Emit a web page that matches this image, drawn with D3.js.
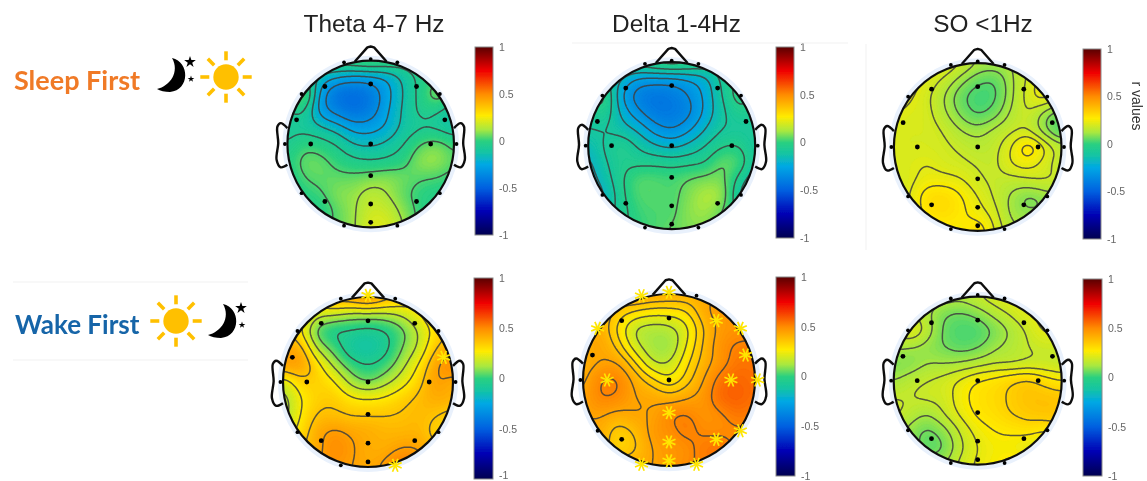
<!DOCTYPE html>
<html>
<head>
<meta charset="utf-8">
<script src="https://cdn.jsdelivr.net/npm/d3@7"></script>
<style>
html, body { margin: 0; padding: 0; background: #fff; }
text { font-family: "Liberation Sans", Arial, sans-serif; }
</style>
</head>
<body>
<svg id="fig" width="1147" height="481"></svg>
<script>
// r values, rows top to bottom (y = 1 .. -1), columns left to right (x = -1 .. 1)
const thetaSleep = [
  [0, 0, 0, 0, .03, .05, .03, 0, 0, 0, 0],
  [-.05, -.05, -.17, -.24, -.27, -.26, -.22, -.12, -.03, 0, 0],
  [0, .07, -.27, -.42, -.45, -.40, -.27, -.14, -.03, .08, 0],
  [-.07, -.05, -.28, -.37, -.43, -.38, -.25, -.13, -.04, -.05, -.12],
  [-.08, -.09, -.14, -.2, -.28, -.28, -.22, -.12, -.07, -.08, -.12],
  [-.06, 0, -.02, -.07, -.15, -.165, -.13, -.06, .03, .06, 0],
  [-.02, .05, .05, 0, -.04, -.055, -.04, 0, .09, .1, .04],
  [-.04, .03, .05, .05, .05, .07, .08, .06, .04, .03, 0],
  [-.05, -.01, .02, .08, .1, .15, .12, .05, 0, -.02, -.03],
  [-.05, -.02, -.02, .05, .11, .18, .17, .09, 0, -.02, -.03],
  [-.05, -.02, 0, .05, .11, .21, .2, .12, 0, -.02, -.03]
];
const deltaSleep = [
  [-.05, -.05, -.05, -.04, 0, .03, 0, -.03, -.05, -.05, -.05],
  [-.08, -.08, -.18, -.27, -.28, -.28, -.25, -.2, -.08, -.02, -.05],
  [-.03, -.01, -.25, -.38, -.42, -.40, -.34, -.24, -.1, 0, -.05],
  [-.08, -.05, -.2, -.32, -.40, -.41, -.36, -.24, -.12, -.05, -.06],
  [-.1, -.1, -.14, -.2, -.3, -.34, -.28, -.18, -.1, -.09, -.09],
  [-.16, -.09, -.05, -.11, -.17, -.2, -.16, -.1, -.04, -.03, -.1],
  [-.2, -.11, -.05, -.05, -.05, -.06, -.05, -.03, .05, .02, -.1],
  [-.22, -.14, -.04, .03, .03, .02, .05, .07, .07, -.05, -.15],
  [-.25, -.18, -.05, .03, .04, .03, .08, .13, .1, -.1, -.18],
  [-.2, -.15, -.06, .01, .03, .035, .09, .11, .05, -.05, -.1],
  [-.1, -.1, -.05, 0, .03, .055, .08, .08, .03, -.03, -.05]
];
const soSleep = [
  [.24, .24, .23, .225, .18, .13, .12, .13, .18, .2, .2],
  [.24, .24, .21, .17, .11, .06, .05, .12, .19, .24, .22],
  [.24, .225, .19, .13, .06, .02, .035, .12, .2, .24, .18],
  [.22, .21, .195, .14, .08, .04, .07, .14, .18, .11, .06],
  [.21, .2, .2, .175, .13, .11, .14, .17, .18, .1, .03],
  [.2, .2, .2, .19, .17, .15, .165, .22, .295, .22, .15],
  [.2, .21, .22, .2, .19, .175, .17, .22, .24, .2, .15],
  [.2, .21, .24, .24, .225, .19, .17, .16, .17, .18, .17],
  [.2, .22, .3, .31, .27, .22, .175, .12, .08, .1, .12],
  [.2, .22, .28, .3, .275, .245, .2, .12, .1, .1, .1],
  [.2, .22, .25, .26, .26, .3, .22, .15, .12, .1, .1]
];
const thetaWake = [
  [.3, .3, .35, .42, .45, .5, .42, .35, .3, .3, .3],
  [.32, .33, .2, .18, .14, .14, .14, .18, .26, .35, .35],
  [.38, .28, .05, -.03, -.04, -.06, -.03, .05, .17, .3, .38],
  [.42, .4, .15, .03, -.09, -.12, -.06, .07, .18, .36, .42],
  [.44, .45, .3, .14, .02, -.03, .02, .13, .27, .44, .5],
  [.2, .32, .33, .27, .13, .07, .13, .22, .33, .45, .42],
  [.12, .25, .33, .34, .28, .26, .28, .33, .38, .42, .4],
  [.12, .26, .37, .38, .36, .36, .36, .37, .39, .36, .33],
  [.2, .3, .42, .47, .44, .42, .4, .4, .4, .33, .32],
  [.3, .35, .42, .5, .46, .42, .42, .46, .45, .38, .35],
  [.3, .35, .45, .47, .45, .43, .47, .55, .5, .42, .38]
];
const deltaWake = [
  [.4, .4, .42, .46, .44, .43, .42, .42, .45, .46, .46],
  [.42, .42, .36, .31, .28, .28, .31, .42, .47, .47, .47],
  [.42, .42, .3, .17, .14, .15, .22, .37, .46, .48, .48],
  [.41, .44, .35, .2, .12, .11, .24, .38, .48, .52, .52],
  [.41, .44, .44, .32, .18, .17, .29, .4, .48, .54, .54],
  [.42, .51, .515, .42, .33, .26, .34, .44, .54, .57, .55],
  [.44, .51, .5, .44, .43, .4, .43, .47, .56, .58, .55],
  [.44, .45, .42, .44, .44, .5, .515, .48, .5, .54, .52],
  [.42, .42, .34, .38, .46, .49, .525, .5, .5, .5, .5],
  [.42, .42, .33, .36, .44, .47, .49, .53, .54, .5, .5],
  [.42, .42, .42, .42, .44, .47, .5, .52, .52, .5, .5]
];
const soWake = [
  [.15, .15, .15, .15, .14, .17, .2, .22, .22, .2, .2],
  [.16, .17, .13, .08, .065, .09, .14, .18, .22, .23, .22],
  [.18, .22, .15, .06, .03, .035, .08, .13, .18, .23, .22],
  [.13, .12, .1, .07, .05, .065, .11, .14, .17, .18, .18],
  [.08, .09, .12, .12, .13, .15, .17, .17, .18, .18, .17],
  [.12, .15, .17, .19, .23, .27, .29, .32, .34, .3, .27],
  [.17, .17, .18, .19, .25, .29, .31, .34, .37, .37, .36],
  [.18, .15, .12, .17, .23, .28, .3, .33, .35, .36, .36],
  [.15, .1, .06, .1, .18, .24, .27, .28, .29, .27, .3],
  [.14, .1, .05, .07, .16, .22, .25, .25, .22, .2, .2],
  [.12, .1, .1, .12, .19, .23, .26, .29, .29, .25, .22]
];

// contour levels of each map
const levelsThetaSleep = [-.33, -.24, -.15, -.06, .03, .12];
const levelsDeltaSleep = [-.34, -.26, -.18, -.10, -.03, .05];
const levelsSoSleep = [.045, .09, .13, .18, .22, .265];
const levelsThetaWake = [-.03, .07, .16, .26, .36, .45];
const levelsDeltaWake = [.17, .24, .31, .37, .44, .51];
const levelsSoWake = [.07, .12, .17, .22, .27, .33];

// electrode spots, head units
const electrodeX = [-.55, 0, .55, -.89, .89, -.72, 0, .72, 0, -.55, 0, .55, 0, -.32, 0, .32, -.83, .83, -1.03, 1.03, -.83, .83, -.32, .32];
const electrodeY = [.69, .72, .69, .29, .29, 0, 0, 0, -.38, -.69, -.72, -.69, -.94, .98, 1.02, .98, .6, .6, 0, 0, -.59, -.59, -.98, -.98];

// electrodes flagged with a yellow star
const starsThetaWake = [14, 4, 23];
const starsDeltaWake = [13, 14, 16, 2, 17, 4, 7, 19, 5, 8, 21, 11, 10, 22, 12, 23];

const colorBarTicks = [-1, -.5, 0, .5, 1];
const colorValues = [-1, -.75, -.5, -.25, -.12, 0, .12, .27, .5, .75, .87, 1];
const colorStops = ["#000050", "#0000b4", "#0060e0", "#00a8e4", "#14c4a4", "#2ad080", "#a8e840", "#ffeb00", "#ff8c00", "#f00000", "#a80000", "#5a0000"];

const color = d3.scaleLinear().domain(colorValues).range(colorStops);
const svg = d3.select("#fig");
const root = svg.append("g").attr("filter", "url(#soft)");
const defs = svg.append("defs");
defs.append("filter").attr("id", "soft")
  .attr("filterUnits", "userSpaceOnUse")
  .attr("x", 0).attr("y", 0).attr("width", 1147).attr("height", 481)
  .append("feGaussianBlur").attr("stdDeviation", .45);
const grad = defs.append("linearGradient").attr("id", "barGrad")
  .attr("x1", 0).attr("x2", 0).attr("y1", 1).attr("y2", 0);
colorValues.forEach(function(v, i) {
  grad.append("stop").attr("offset", (v + 1) / 2).attr("stop-color", colorStops[i]);
});

const panels = [
  {id: "a", grid: thetaSleep, levels: levelsThetaSleep, stars: [], cx: 370.7, cy: 144, r: 83.3, bar: [475, 493, 47, 235]},
  {id: "b", grid: deltaSleep, levels: levelsDeltaSleep, stars: [], cx: 671.7, cy: 145.7, r: 83.5, bar: [776, 794, 47, 238]},
  {id: "c", grid: soSleep, levels: levelsSoSleep, stars: [], cx: 977.7, cy: 147, r: 83.8, bar: [1083, 1101, 49, 239]},
  {id: "d", grid: thetaWake, levels: levelsThetaWake, stars: starsThetaWake, cx: 368, cy: 382, r: 85, bar: [474, 493, 278, 479]},
  {id: "e", grid: deltaWake, levels: levelsDeltaWake, stars: starsDeltaWake, cx: 669, cy: 380, r: 86, bar: [776, 795, 277, 476]},
  {id: "f", grid: soWake, levels: levelsSoWake, stars: [], cx: 977.7, cy: 380.7, r: 84, bar: [1083, 1102, 279, 476]}
];

// smooth resample of a coarse grid so the contours come out round
function cubic(a, b, c, d, t) {
  return b + .5 * t * (c - a + t * (2 * a - 5 * b + 4 * c - d + t * (3 * (b - c) + d - a)));
}
function resample(grid, n) {
  const rows = grid.length, cols = grid[0].length;
  const out = new Float64Array(n * n);
  const at = (i, j) => grid[Math.max(0, Math.min(rows - 1, i))][Math.max(0, Math.min(cols - 1, j))];
  for (let iy = 0; iy < n; iy++) {
    const fy = iy / (n - 1) * (rows - 1), i = Math.min(rows - 2, Math.floor(fy)), ty = fy - i;
    for (let ix = 0; ix < n; ix++) {
      const fx = ix / (n - 1) * (cols - 1), j = Math.min(cols - 2, Math.floor(fx)), tx = fx - j;
      const col = [-1, 0, 1, 2].map(k => cubic(at(i + k, j - 1), at(i + k, j), at(i + k, j + 1), at(i + k, j + 2), tx));
      out[iy * n + ix] = cubic(col[0], col[1], col[2], col[3], ty);
    }
  }
  d3.blur2({data: out, width: n, height: n}, 4);
  return out;
}

const noseLine = [[-.19, .99], [-.04, 1.16], [0, 1.17], [.04, 1.16], [.19, .99]];
const earLine = [[1, .19], [1.08, .25], [1.12, .21], [1.11, .01], [1.13, -.19], [1.08, -.28], [1, -.25]];

function drawPanel(p) {
  const x = d3.scaleLinear().domain([-1, 1]).range([p.cx - p.r, p.cx + p.r]);
  const y = d3.scaleLinear().domain([-1, 1]).range([p.cy + p.r, p.cy - p.r]);
  const g = root.append("g");

  g.append("circle").attr("cx", p.cx).attr("cy", p.cy).attr("r", p.r * 1.06).attr("fill", "#e9f1fc");

  defs.append("clipPath").attr("id", "clip-" + p.id)
    .append("circle").attr("cx", p.cx).attr("cy", p.cy).attr("r", p.r);

  const n = 141;
  const values = resample(p.grid, n);
  // contour coords run 0..n, map them back on to the head box
  const toX = d3.scaleLinear().domain([.5, n - .5]).range([p.cx - p.r, p.cx + p.r]);
  const toY = d3.scaleLinear().domain([.5, n - .5]).range([p.cy - p.r, p.cy + p.r]);
  const path = d3.geoPath(d3.geoTransform({
    point: function(a, b) { this.stream.point(toX(a), toY(b)); }
  }));
  const clipped = g.append("g").attr("clip-path", "url(#clip-" + p.id + ")");

  const lo = d3.min(values), hi = d3.max(values);
  const fillSteps = d3.range(Math.floor(lo * 100) / 100, hi, .01);
  clipped.selectAll("path.fill")
    .data(d3.contours().size([n, n]).thresholds(fillSteps)(values))
    .join("path").attr("class", "fill")
    .attr("d", path)
    .attr("fill", d => color(d.value + .005))
    .attr("stroke", d => color(d.value + .005))
    .attr("stroke-width", .3);

  clipped.selectAll("path.line")
    .data(d3.contours().size([n, n]).thresholds(p.levels)(values))
    .join("path").attr("class", "line")
    .attr("d", path)
    .attr("fill", "none")
    .attr("stroke", "#404040")
    .attr("stroke-opacity", .85)
    .attr("stroke-width", 1.5);

  const outline = d3.line().x(d => x(d[0])).y(d => y(d[1]));
  g.append("path").attr("d", outline(noseLine))
    .attr("fill", "none").attr("stroke", "#111").attr("stroke-width", 2.4).attr("stroke-linejoin", "round");
  const earCurve = d3.line().x(d => x(d[0])).y(d => y(d[1])).curve(d3.curveCatmullRom);
  g.append("path").attr("d", earCurve(earLine))
    .attr("fill", "none").attr("stroke", "#111").attr("stroke-width", 2.4);
  g.append("path").attr("d", earCurve(earLine.map(d => [-d[0], d[1]])))
    .attr("fill", "none").attr("stroke", "#111").attr("stroke-width", 2.4);
  g.append("circle").attr("cx", p.cx).attr("cy", p.cy).attr("r", p.r)
    .attr("fill", "none").attr("stroke", "#111").attr("stroke-width", 2.2);

  // electrodes
  electrodeX.forEach(function(ex, i) {
    if (p.stars.indexOf(i) > -1) return;
    g.append("circle").attr("cx", x(ex)).attr("cy", y(electrodeY[i]))
      .attr("r", i > 12 ? 1.9 : 2.4).attr("fill", "#000");
  });
  p.stars.forEach(function(i) {
    const star = g.append("g").attr("transform", "translate(" + x(electrodeX[i]) + "," + y(electrodeY[i]) + ")");
    d3.range(8).forEach(function(k) {
      const a = k * Math.PI / 4 + Math.PI / 8;
      star.append("line")
        .attr("x1", 0).attr("y1", 0)
        .attr("x2", Math.cos(a) * 7).attr("y2", Math.sin(a) * 7)
        .attr("stroke", "#ffe600").attr("stroke-width", 1.7);
    });
  });

  // color bar
  const b = p.bar;
  const barScale = d3.scaleLinear().domain([-1, 1]).range([b[3], b[2]]);
  g.append("rect").attr("x", b[0]).attr("y", b[2]).attr("width", b[1] - b[0]).attr("height", b[3] - b[2])
    .attr("fill", "url(#barGrad)").attr("stroke", "#8a8a8a").attr("stroke-width", 1);
  const axis = g.append("g").attr("transform", "translate(" + b[1] + ",0)")
    .call(d3.axisRight(barScale).tickValues(colorBarTicks).tickSize(0).tickPadding(6).tickFormat(d => String(d)));
  axis.select(".domain").remove();
  axis.selectAll("text").attr("fill", "#666").attr("font-size", 10.5)
    .attr("font-family", '"Liberation Sans", Arial, sans-serif');
  // the bottom label of the lowest bar would run off the page
  if (b[3] > 477) axis.selectAll("text").filter(d => d === -1).attr("y", -4);
}
panels.forEach(drawPanel);

// column titles
const titles = ["Theta 4-7 Hz", "Delta 1-4Hz", "SO <1Hz"];
const titleX = [374, 676.5, 983];
titles.forEach(function(t, i) {
  root.append("text").attr("x", titleX[i]).attr("y", 32).attr("text-anchor", "middle")
    .attr("font-size", 24.4).attr("fill", "#222").text(t);
});
root.append("text").attr("transform", "translate(1132,106) rotate(90)").attr("text-anchor", "middle")
  .attr("font-size", 14).attr("fill", "#333").text("r values");

// row labels and their icons
function drawSun(cx, cy) {
  const s = root.append("g").attr("transform", "translate(" + cx + "," + cy + ")");
  s.append("circle").attr("r", 12.7).attr("fill", "#ffc000");
  d3.range(8).forEach(function(k) {
    const a = k * Math.PI / 4;
    s.append("line").attr("x1", Math.cos(a) * 16.7).attr("y1", Math.sin(a) * 16.7)
      .attr("x2", Math.cos(a) * 25.7).attr("y2", Math.sin(a) * 25.7)
      .attr("stroke", "#ffc000").attr("stroke-width", 3.6);
  });
}
function drawMoon(cx, cy) {
  const m = root.append("g").attr("transform", "translate(" + cx + "," + cy + ")");
  m.append("path").attr("d", "M0,-17 C18,-13 18,15 -2,17 C-7,17 -12,16 -15,14 C-2,11 8,-3 0,-17Z").attr("fill", "#000");
  m.append("path").attr("transform", "translate(18,-13)").attr("d", d3.symbol(d3.symbolStar, 42)()).attr("fill", "#000");
  m.append("path").attr("transform", "translate(19,4)").attr("d", d3.symbol(d3.symbolStar, 14)()).attr("fill", "#000");
}
root.append("text").attr("x", 14).attr("y", 90).attr("font-size", 27).attr("font-weight", 700)
  .style("font-family", "Lato, sans-serif").attr("fill", "#f07a28").text("Sleep First");
drawMoon(172, 75);
drawSun(226, 77);
root.append("text").attr("x", 15).attr("y", 334).attr("font-size", 26).attr("font-weight", 700)
  .style("font-family", "Lato, sans-serif").attr("fill", "#1565a8").text("Wake First");
drawSun(176, 321);
drawMoon(223, 321);

// faint frame lines left over in the figure
const faint = [[13, 282, 248, 282], [13, 360, 248, 360], [572, 43, 848, 43], [866, 44, 866, 250]];
faint.forEach(function(l) {
  root.append("line").attr("x1", l[0]).attr("y1", l[1]).attr("x2", l[2]).attr("y2", l[3])
    .attr("stroke", "#f1f1f1").attr("stroke-width", 1);
});
</script>
</body>
</html>
